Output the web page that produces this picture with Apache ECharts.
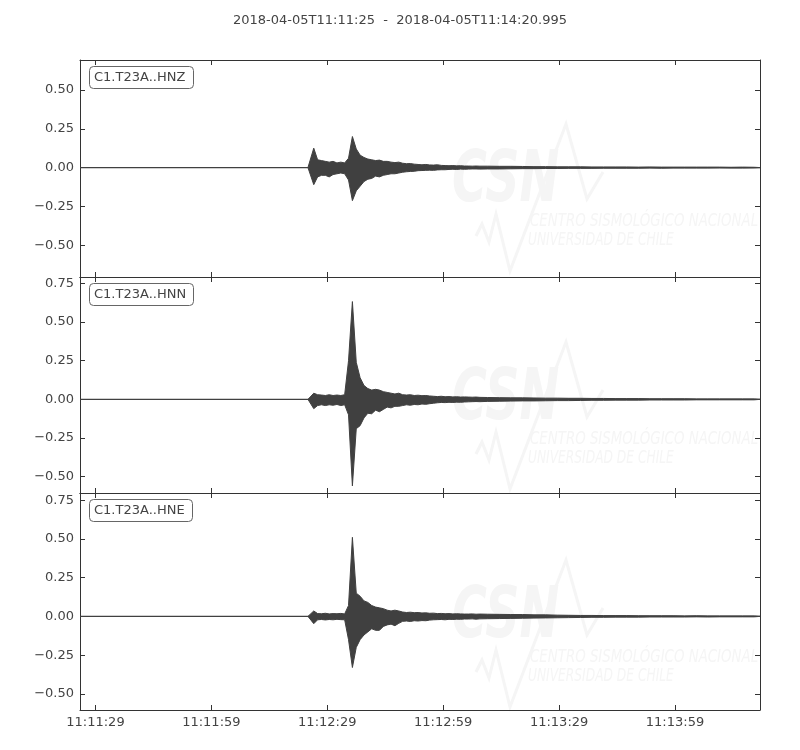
<!DOCTYPE html>
<html><head><meta charset="utf-8">
<script src="https://cdn.jsdelivr.net/npm/echarts@6/dist/echarts.min.js"></script>
<style>html,body{margin:0;padding:0;background:#fff}#c{width:800px;height:750px}</style>
</head><body><div id="c"></div>
<script>
// ---------------- data ----------------
const titleText = '2018-04-05T11:11:25  -  2018-04-05T11:14:20.995';
const channels = ['C1.T23A..HNZ', 'C1.T23A..HNN', 'C1.T23A..HNE'];
// seconds after 11:11:25
const traceStart = 0;
const traceEnd = 175.995;
const xTickSeconds = [4, 34, 64, 94, 124, 154];
const xTickLabels = ['11:11:29', '11:11:59', '11:12:29', '11:12:59', '11:13:29', '11:13:59'];
const yTicksZ = [-0.5, -0.25, 0, 0.25, 0.5];
const yTicksNE = [-0.5, -0.25, 0, 0.25, 0.5, 0.75];

// start time (s after 11:11:25) of each min/max bin; a bin lasts until the next start
const binT = [59,60,61,62,63,64,65,66,67,68,69,70,71,72,73,74,75,76,77,78,
  79,80,81,82,83,84,85,86,87,88,89,90,91,92,93,94,95,96,97,98,
  99,100,101,102,103,104,107,110,113,116,119,122,125,128,131,134,137,140,143,146,
  149,152,155,158,161,164,167,170,173];

const hnzMax = [0.003,0.125,0.050,0.045,0.040,0.035,0.040,0.030,0.035,0.030,0.060,
  0.200,0.120,0.080,0.065,0.055,0.050,0.045,0.048,0.040,0.040,
  0.035,0.032,0.035,0.028,0.025,0.026,0.022,0.020,0.018,0.020,
  0.017,0.016,0.018,0.014,0.013,0.012,0.013,0.011,0.012,0.010,
  0.010,0.009,0.010,0.009,
  0.009,0.008,0.008,0.007,0.006,0.006,0.005,0.005,0.005,0.004,0.004,0.004,0.004,0.003,0.004,0.003,0.003,0.003,0.003,0.003,0.003,0.002,0.003,0.002];
const hnzMin = [-0.003,-0.110,-0.060,-0.050,-0.050,-0.060,-0.045,-0.040,-0.035,-0.040,-0.080,
  -0.213,-0.150,-0.120,-0.090,-0.075,-0.070,-0.055,-0.060,-0.050,-0.045,
  -0.040,-0.040,-0.035,-0.030,-0.027,-0.025,-0.024,-0.020,-0.019,-0.018,
  -0.017,-0.018,-0.015,-0.014,-0.014,-0.012,-0.011,-0.012,-0.010,-0.011,
  -0.010,-0.009,-0.009,-0.010,
  -0.009,-0.009,-0.008,-0.007,-0.007,-0.006,-0.006,-0.005,-0.005,-0.005,-0.004,-0.004,-0.004,-0.004,-0.003,-0.004,-0.003,-0.003,-0.003,-0.003,-0.002,-0.003,-0.003,-0.002];

const hnnMax = [0.003,0.040,0.030,0.028,0.025,0.030,0.025,0.028,0.025,0.030,0.250,
  0.633,0.240,0.140,0.090,0.070,0.060,0.065,0.060,0.050,0.045,
  0.040,0.035,0.040,0.030,0.028,0.030,0.025,0.027,0.024,0.025,
  0.022,0.020,0.018,0.020,0.017,0.018,0.016,0.017,0.015,0.016,
  0.015,0.014,0.015,0.013,
  0.012,0.011,0.010,0.010,0.009,0.008,0.008,0.007,0.007,0.006,0.006,0.005,0.005,0.005,0.004,0.004,0.004,0.004,0.003,0.003,0.003,0.003,0.003,0.003];
const hnnMin = [-0.003,-0.060,-0.040,-0.035,-0.040,-0.035,-0.038,-0.033,-0.040,-0.035,-0.100,
  -0.560,-0.190,-0.170,-0.120,-0.090,-0.093,-0.070,-0.080,-0.065,-0.050,
  -0.055,-0.045,-0.045,-0.040,-0.035,-0.038,-0.033,-0.035,-0.030,-0.032,
  -0.028,-0.025,-0.022,-0.020,-0.021,-0.019,-0.020,-0.018,-0.019,-0.017,
  -0.016,-0.015,-0.014,-0.015,
  -0.013,-0.012,-0.011,-0.010,-0.010,-0.009,-0.008,-0.008,-0.007,-0.006,-0.006,-0.005,-0.005,-0.005,-0.004,-0.004,-0.004,-0.004,-0.003,-0.003,-0.003,-0.003,-0.003,-0.003];

const hneMax = [0.003,0.035,0.018,0.017,0.020,0.016,0.018,0.017,0.019,0.016,0.070,
  0.510,0.150,0.130,0.100,0.090,0.070,0.060,0.055,0.050,0.040,
  0.035,0.040,0.035,0.028,0.025,0.027,0.024,0.025,0.022,0.023,
  0.020,0.021,0.018,0.019,0.017,0.018,0.016,0.017,0.016,0.015,
  0.015,0.016,0.014,0.015,
  0.014,0.013,0.012,0.012,0.010,0.010,0.008,0.007,0.006,0.006,0.005,0.005,0.005,0.004,0.004,0.004,0.004,0.003,0.004,0.003,0.003,0.003,0.003,0.003];
const hneMin = [-0.003,-0.047,-0.022,-0.020,-0.023,-0.020,-0.022,-0.019,-0.021,-0.022,-0.150,
  -0.330,-0.200,-0.150,-0.120,-0.100,-0.080,-0.090,-0.090,-0.065,-0.055,
  -0.050,-0.060,-0.045,-0.032,-0.030,-0.033,-0.028,-0.030,-0.027,-0.028,
  -0.024,-0.022,-0.021,-0.020,-0.022,-0.019,-0.020,-0.018,-0.019,-0.017,
  -0.017,-0.016,-0.018,-0.016,
  -0.015,-0.014,-0.013,-0.012,-0.011,-0.010,-0.009,-0.008,-0.007,-0.006,-0.006,-0.005,-0.005,-0.005,-0.004,-0.004,-0.004,-0.004,-0.003,-0.004,-0.003,-0.003,-0.003,-0.003];

// ---------------- chart ----------------
const FONT = 'DejaVu Sans';
const TXT = '#444444';
const FRAME = '#333333';
const TRACE = '#404040';

const panels = [
  {top: 60,  height: 217, ymin: -0.705, ymax: 0.693, yt: yTicksZ,  mx: hnzMax, mn: hnzMin},
  {top: 277, height: 216, ymin: -0.606, ymax: 0.792, yt: yTicksNE, mx: hnnMax, mn: hnnMin},
  {top: 493, height: 217, ymin: -0.604, ymax: 0.796, yt: yTicksNE, mx: hneMax, mn: hneMin}
];

// envelope points at bin centres, closed to zero at both ends
function envelope(arr) {
  const pts = [[binT[0], 0]];
  for (let i = 0; i < binT.length; i++) {
    const next = i + 1 < binT.length ? binT[i + 1] : traceEnd;
    pts.push([(binT[i] + next) / 2, arr[i]]);
  }
  pts.push([traceEnd, 0]);
  return pts;
}

function fmtY(v) {
  const s = Math.abs(v).toFixed(2);
  return v < 0 ? '\u2212' + s : s;
}
function fmtX(v) {
  const i = xTickSeconds.indexOf(Math.round(v));
  return i >= 0 ? xTickLabels[i] : '';
}

const lineS = {show: true, onZero: false, lineStyle: {color: FRAME, width: 1}};
const tickS = (vals) => ({show: true, inside: true, length: 5, customValues: vals, lineStyle: {color: FRAME, width: 1}});

const grids = [], xAxes = [], yAxes = [], series = [];
panels.forEach((p, i) => {
  grids.push({left: 80, width: 680, top: p.top, height: p.height, containLabel: false});
});
// bottom x axes 0..2, top x axes 3..5
panels.forEach((p, i) => {
  xAxes.push({
    type: 'value', gridIndex: i, position: 'bottom', min: traceStart, max: traceEnd,
    axisLine: lineS, axisTick: tickS(xTickSeconds), splitLine: {show: false},
    axisLabel: i === 2 ? {show: true, customValues: xTickSeconds, formatter: fmtX, margin: 6,
      fontFamily: FONT, fontSize: 13, color: TXT} : {show: false}
  });
});
panels.forEach((p, i) => {
  xAxes.push({
    type: 'value', gridIndex: i, position: 'top', min: traceStart, max: traceEnd,
    axisLine: lineS, axisTick: tickS(xTickSeconds), splitLine: {show: false}, axisLabel: {show: false}
  });
});
panels.forEach((p, i) => {
  yAxes.push({
    type: 'value', gridIndex: i, position: 'left', min: p.ymin, max: p.ymax,
    axisLine: lineS, axisTick: tickS(p.yt), splitLine: {show: false},
    axisLabel: {show: true, customValues: p.yt, formatter: fmtY, margin: 6, fontFamily: FONT, fontSize: 13, color: TXT}
  });
});
panels.forEach((p, i) => {
  yAxes.push({
    type: 'value', gridIndex: i, position: 'right', min: p.ymin, max: p.ymax,
    axisLine: lineS, axisTick: tickS(p.yt), splitLine: {show: false}, axisLabel: {show: false}
  });
});
panels.forEach((p, i) => {
  // the trace's flat (zero) record
  series.push({
    type: 'line', name: channels[i] + ' base', xAxisIndex: i, yAxisIndex: i,
    data: [[traceStart, 0], [traceEnd, 0]], showSymbol: false, symbol: 'none',
    lineStyle: {color: TRACE, width: 1.2}, silent: true, animation: false, z: 3
  });
  // upper (max) and lower (min) envelopes, filled to zero
  [p.mx, p.mn].forEach((arr, k) => {
    series.push({
      type: 'line', name: channels[i] + (k ? ' min' : ' max'), xAxisIndex: i, yAxisIndex: i,
      data: envelope(arr), showSymbol: false, symbol: 'none',
      lineStyle: {color: TRACE, width: 1, join: 'miter'},
      areaStyle: {color: TRACE, opacity: 1, origin: 'auto'},
      silent: true, animation: false, z: 4
    });
  });
});

// faint CSN watermark in each panel
const WM = '#f5f5f5';
const graphics = [];
[0, 218, 436].forEach((dy) => {
  graphics.push({
    type: 'polyline', z: 0, silent: true,
    shape: {points: [[476, 236 + dy], [482, 224 + dy], [489, 242 + dy], [496, 214 + dy], [510, 271 + dy], [566, 124 + dy], [587, 199 + dy], [603, 172 + dy]]},
    style: {stroke: WM, lineWidth: 3, fill: null}
  });
  graphics.push({
    type: 'text', z: 0, silent: true, x: 452, y: 146 + dy, scaleX: 0.66,
    style: {text: 'CSN', font: 'italic bold 72px "DejaVu Sans"', fill: WM}
  });
  graphics.push({
    type: 'text', z: 0, silent: true, x: 530, y: 213 + dy, scaleX: 0.785,
    style: {text: 'CENTRO SISMOLÓGICO NACIONAL', font: 'italic 17px "DejaVu Sans"', fill: WM}
  });
  graphics.push({
    type: 'text', z: 0, silent: true, x: 528, y: 232 + dy, scaleX: 0.72,
    style: {text: 'UNIVERSIDAD DE CHILE', font: 'italic 17px "DejaVu Sans"', fill: WM}
  });
});

const titles = [{
  text: titleText, left: 'center', top: 14, padding: 0,
  textStyle: {fontFamily: FONT, fontSize: 13, fontWeight: 'normal', color: TXT}
}];
panels.forEach((p, i) => {
  titles.push({
    text: channels[i], left: 89, top: p.top + 6, padding: [4, 8, 4, 5],
    borderColor: '#666666', borderWidth: 1, borderRadius: 4, backgroundColor: '#ffffff',
    textStyle: {fontFamily: FONT, fontSize: 13, fontWeight: 'normal', color: TXT, lineHeight: 15}
  });
});

const chart = echarts.init(document.getElementById('c'), null, {renderer: 'canvas'});
chart.setOption({
  animation: false,
  backgroundColor: '#ffffff',
  title: titles,
  grid: grids,
  xAxis: xAxes,
  yAxis: yAxes,
  series: series,
  graphic: graphics
});
</script>
</body></html>
